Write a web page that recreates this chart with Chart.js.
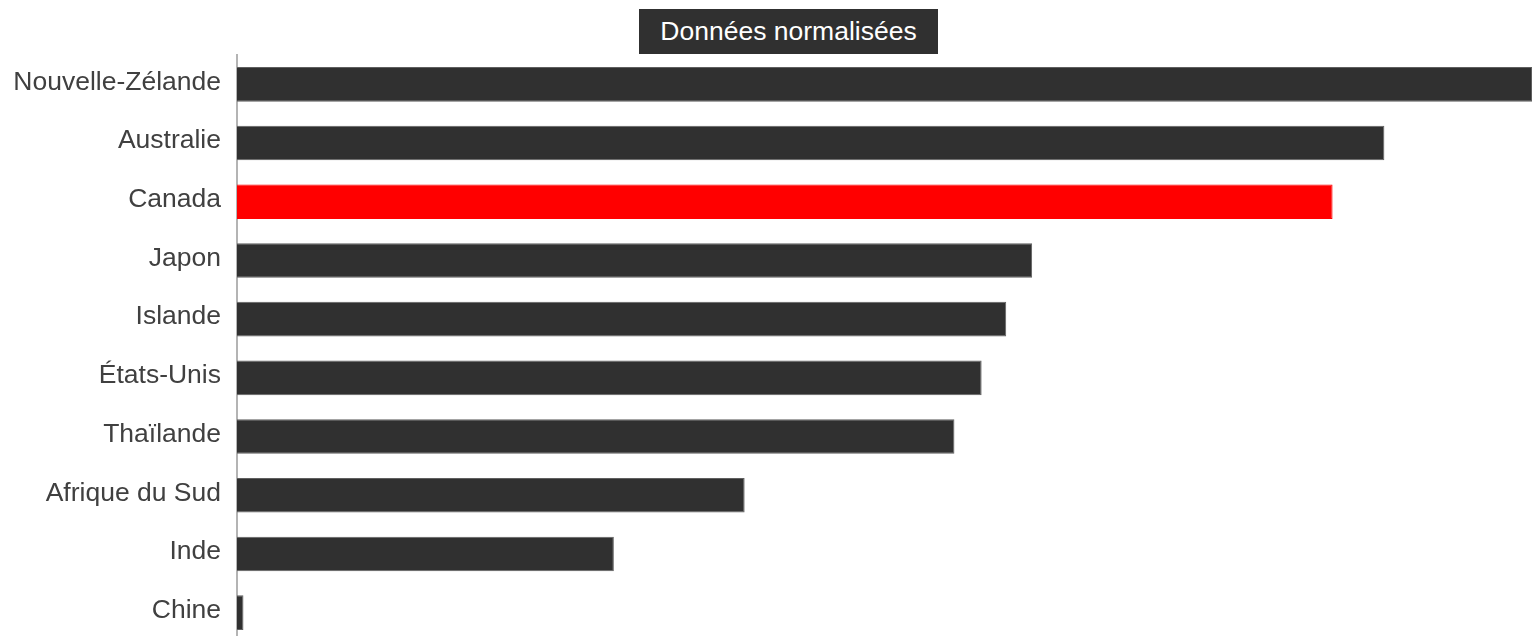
<!DOCTYPE html>
<html lang="fr">
<head>
<meta charset="utf-8">
<title>Données normalisées</title>
<script src="https://cdn.jsdelivr.net/npm/chart.js@4.4.1/dist/chart.umd.min.js"></script>
<style>
  html, body { margin: 0; padding: 0; background: #fff; overflow: hidden; }
  #wrap { position: relative; width: 1532px; height: 642px; }
  #chart { display: block; }
  .chart-title {
    position: absolute; left: 639px; top: 9px; width: 299px; height: 45px;
    background: #303030; color: #fff;
    font: 26.5px "Liberation Sans", Arial, sans-serif;
    display: flex; align-items: center; justify-content: center;
  }
</style>
</head>
<body>
<div id="wrap">
  <canvas id="chart" width="1532" height="642"></canvas>
  <div class="chart-title">Données normalisées</div>
</div>
<script>
// pays et valeurs normalisées (1 = maximum)
const countries = ['Nouvelle-Zélande', 'Australie', 'Canada', 'Japon', 'Islande',
                   'États-Unis', 'Thaïlande', 'Afrique du Sud', 'Inde', 'Chine'];
const scores = [1.0, 0.886, 0.846, 0.614, 0.594, 0.575, 0.554, 0.392, 0.291, 0.005];
const highlight = 'Canada';

const barColors = countries.map(c => c === highlight ? '#ff0000' : '#303030');
const edgeColors = countries.map(c => c === highlight ? '#ff0000' : '#5f5f5f');

new Chart(document.getElementById('chart'), {
    type: 'bar',
    data: {
        labels: countries,
        datasets: [{
            data: scores,
            backgroundColor: barColors,
            borderColor: edgeColors,
            borderWidth: 1,
            barPercentage: 0.59,
            categoryPercentage: 1.0
        }]
    },
    options: {
        indexAxis: 'y',
        responsive: false,
        animation: false,
        layout: { padding: { top: 55, left: 0, right: 0, bottom: 0 } },
        plugins: {
            legend: { display: false },
            tooltip: { enabled: false }
        },
        scales: {
            x: {
                display: false,
                min: 0,
                max: 1
            },
            y: {
                // fixed label column, no extra room kept above/below for labels
                afterFit: (scale) => {
                    scale.width = 237;
                    scale.paddingTop = 0;
                    scale.paddingBottom = 0;
                },
                grid: { display: false },
                border: { display: true, color: '#b4b4b4', width: 2 },
                ticks: {
                    color: '#404040',
                    padding: 8,
                    labelOffset: -2,
                    font: { family: '"Liberation Sans", Arial, sans-serif', size: 26.5 }
                }
            }
        }
    }
});
</script>
</body>
</html>
